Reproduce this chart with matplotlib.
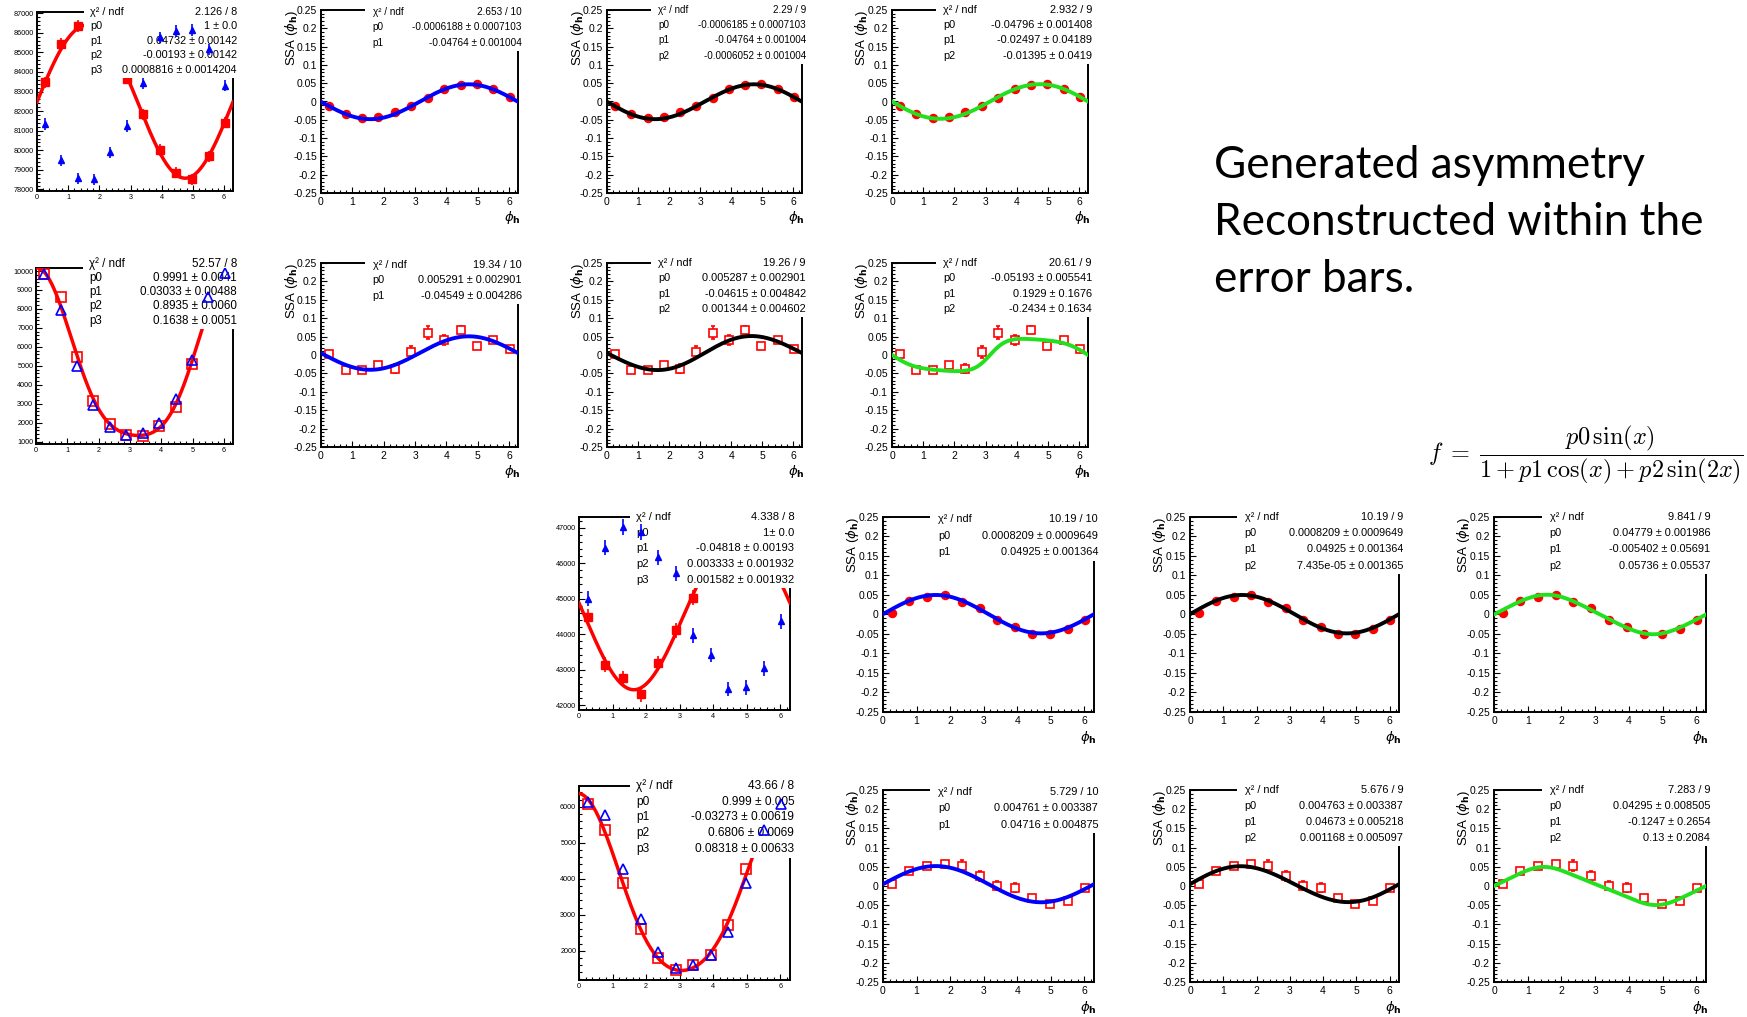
import numpy as np
import matplotlib
matplotlib.use("Agg")
import matplotlib.pyplot as plt
from matplotlib.ticker import MultipleLocator, FuncFormatter
from matplotlib.patches import Rectangle
import matplotlib.transforms as mtrans

plt.rcParams['font.family'] = ['Liberation Sans', 'DejaVu Sans']
plt.rcParams['axes.unicode_minus'] = False
plt.rcParams['mathtext.fontset'] = 'dejavusans'

W, H, DPI = 1747, 1017, 100

# ---------------- data ----------------
phi_centers = [0.262, 0.785, 1.309, 1.833, 2.356, 2.880, 3.403, 3.927, 4.451, 4.974, 5.498, 6.021]

# counts panels (red = fitted histogram, blue = second histogram)
cnt1_red = [83470, 85450, 86350, 86300, 85150, 83650, 81840, 80010, 78840, 78520, 79690, 81400]
cnt1_red_err = [290, 290, 295, 295, 290, 290, 285, 285, 280, 280, 280, 285]
cnt1_blue = [81340, 79500, 78570, 78530, 79900, 81240, 83420, 85760, 86100, 86150, 85160, 83300]
cnt1_blue_err = [285, 280, 280, 280, 285, 285, 290, 295, 295, 295, 290, 290]
cnt1_stats = [("χ² / ndf", "2.126 / 8"), ("p0", "1 ± 0.0"), ("p1", "0.04732 ± 0.00142"),
              ("p2", "-0.00193 ± 0.00142"), ("p3", "0.0008816 ± 0.0014204")]

cnt2_red = [9825, 8630, 5470, 3140, 1910, 1350, 1300, 1840, 2840, 5120, 7910, 9800]
cnt2_blue = [9860, 7930, 5000, 2930, 1790, 1350, 1470, 1960, 3250, 5300, 8630, 9910]
cnt2_stats = [("χ² / ndf", "52.57 / 8"), ("p0", "0.9991 ± 0.0041"), ("p1", "0.03033 ± 0.00488"),
              ("p2", "0.8935 ± 0.0060"), ("p3", "0.1638 ± 0.0051")]

cnt3_red = [44490, 43140, 42750, 42300, 43190, 44110, 45030, 46000, 46600, 46700, 46100, 45500]
cnt3_red_err = [210, 205, 205, 205, 205, 210, 210, 215, 215, 215, 215, 210]
cnt3_blue = [45000, 46440, 47020, 46880, 46160, 45720, 43970, 43410, 42450, 42500, 43030, 44360]
cnt3_blue_err = [210, 215, 215, 215, 215, 210, 210, 210, 205, 205, 205, 210]
cnt3_stats = [("χ² / ndf", "4.338 / 8"), ("p0", "1± 0.0"), ("p1", "-0.04818 ± 0.00193"),
              ("p2", "0.003333 ± 0.001932"), ("p3", "0.001582 ± 0.001932")]

cnt4_red = [6070, 5370, 3870, 2590, 1790, 1460, 1600, 1880, 2710, 4260, 5450, 6290]
cnt4_blue = [6140, 5770, 4270, 2870, 1970, 1510, 1600, 1880, 2530, 3870, 5350, 6090]
cnt4_stats = [("χ² / ndf", "43.66 / 8"), ("p0", "0.999 ± 0.005"), ("p1", "-0.03273 ± 0.00619"),
              ("p2", "0.6806 ± 0.0069"), ("p3", "0.08318 ± 0.00633")]

# SSA panels
ssa1_vals = [-0.011, -0.033, -0.044, -0.042, -0.030, -0.013, 0.010, 0.034, 0.045, 0.047, 0.034, 0.013]
ssa1_err = [0.0015, 0.0015, 0.0015, 0.0015, 0.0015, 0.0015, 0.0015, 0.0015, 0.0015, 0.0015, 0.0015, 0.0015]
ssa1_blue = [("χ² / ndf", "2.653 / 10"), ("p0", "-0.0006188 ± 0.0007103"), ("p1", "-0.04764 ± 0.001004")]
ssa1_black = [("χ² / ndf", "2.29 / 9"), ("p0", "-0.0006185 ± 0.0007103"), ("p1", "-0.04764 ± 0.001004"),
              ("p2", "-0.0006052 ± 0.001004")]
ssa1_green = [("χ² / ndf", "2.932 / 9"), ("p0", "-0.04796 ± 0.001408"), ("p1", "-0.02497 ± 0.04189"),
              ("p2", "-0.01395 ± 0.0419")]

ssa2_vals = [0.003, -0.040, -0.042, -0.028, -0.037, 0.008, 0.061, 0.040, 0.069, 0.025, 0.042, 0.015]
ssa2_err = [0.004, 0.005, 0.006, 0.009, 0.012, 0.016, 0.018, 0.013, 0.010, 0.004, 0.005, 0.004]
ssa2_blue = [("χ² / ndf", "19.34 / 10"), ("p0", "0.005291 ± 0.002901"), ("p1", "-0.04549 ± 0.004286")]
ssa2_black = [("χ² / ndf", "19.26 / 9"), ("p0", "0.005287 ± 0.002901"), ("p1", "-0.04615 ± 0.004842"),
              ("p2", "0.001344 ± 0.004602")]
ssa2_green = [("χ² / ndf", "20.61 / 9"), ("p0", "-0.05193 ± 0.005541"), ("p1", "0.1929 ± 0.1676"),
              ("p2", "-0.2434 ± 0.1634")]

ssa3_vals = [0.004, 0.035, 0.046, 0.050, 0.032, 0.017, -0.013, -0.032, -0.049, -0.049, -0.036, -0.015]
ssa3_err = [0.002, 0.002, 0.002, 0.002, 0.002, 0.002, 0.002, 0.002, 0.002, 0.002, 0.002, 0.002]
ssa3_blue = [("χ² / ndf", "10.19 / 10"), ("p0", "0.0008209 ± 0.0009649"), ("p1", "0.04925 ± 0.001364")]
ssa3_black = [("χ² / ndf", "10.19 / 9"), ("p0", "0.0008209 ± 0.0009649"), ("p1", "0.04925 ± 0.001364"),
              ("p2", "7.435e-05 ± 0.001365")]
ssa3_green = [("χ² / ndf", "9.841 / 9"), ("p0", "0.04779 ± 0.001986"), ("p1", "-0.005402 ± 0.05691"),
              ("p2", "0.05736 ± 0.05537")]

ssa4_vals = [0.005, 0.038, 0.053, 0.056, 0.053, 0.025, 0.001, -0.004, -0.031, -0.046, -0.038, -0.006]
ssa4_err = [0.006, 0.008, 0.007, 0.009, 0.014, 0.013, 0.012, 0.012, 0.008, 0.007, 0.007, 0.005]
ssa4_blue = [("χ² / ndf", "5.729 / 10"), ("p0", "0.004761 ± 0.003387"), ("p1", "0.04716 ± 0.004875")]
ssa4_black = [("χ² / ndf", "5.676 / 9"), ("p0", "0.004763 ± 0.003387"), ("p1", "0.04673 ± 0.005218"),
              ("p2", "0.001168 ± 0.005097")]
ssa4_green = [("χ² / ndf", "7.283 / 9"), ("p0", "0.04295 ± 0.008505"), ("p1", "-0.1247 ± 0.2654"),
              ("p2", "0.13 ± 0.2084")]

note_lines = ["Generated asymmetry", "Reconstructed within the", "error bars."]
formula = r"$f\;=\;\dfrac{p0\,\sin(x)}{1 + p1\,\cos(x) + p2\,\sin(2x)}$"

# ---------------- helpers ----------------
fig = plt.figure(figsize=(W / DPI, H / DPI), dpi=DPI)
renderer = fig.canvas.get_renderer()
xx = np.linspace(0, 2 * np.pi, 500)
RED, BLUE, GREEN = '#ff0000', '#0000ff', '#22e01e'


def pars(stats):
    return [float(v.split('±')[0]) for _, v in stats[1:]]


def add_ax(x0, y0, x1, y1):
    return fig.add_axes([x0 / W, 1 - y1 / H, (x1 - x0) / W, (y1 - y0) / H])


def tickfmt(v, p):
    if abs(v) < 1e-9:
        return "0"
    return f"{round(v, 6):g}"


def style(ax, ylim, ymaj, ymin, fs, pad):
    ax.set_xlim(0, 2 * np.pi)
    ax.set_ylim(*ylim)
    ax.xaxis.set_major_locator(MultipleLocator(1))
    ax.xaxis.set_minor_locator(MultipleLocator(0.2))
    ax.yaxis.set_major_locator(MultipleLocator(ymaj))
    ax.yaxis.set_minor_locator(MultipleLocator(ymin))
    ax.yaxis.set_major_formatter(FuncFormatter(tickfmt))
    ax.xaxis.set_major_formatter(FuncFormatter(tickfmt))
    ax.tick_params(which='both', direction='in', top=False, right=False, width=0.8,
                   labelsize=fs, pad=pad)
    ax.tick_params(which='major', length=4.5)
    ax.tick_params(which='minor', length=2.3)
    for s in ax.spines.values():
        s.set_linewidth(1.4)


def text_width(s, fs):
    t = fig.text(0, 0, s, fontsize=fs)
    w = t.get_window_extent(renderer).width
    t.remove()
    return w


def statbox(ax, rows, top, dy, box_left, lab_x, fs=None):
    if fs is None:
        bb = ax.get_window_extent(renderer)
        target = 0.55 * bb.width
        wmax = max(text_width(v, 10) for _, v in rows)
        fs = min(7.9, 10 * target / wmax)
    n = len(rows)
    bottom = top - (n - 1) * dy - 0.045
    ax.add_patch(Rectangle((box_left, bottom), 1.045 - box_left, top + 0.05 - bottom,
                           transform=ax.transAxes, facecolor='white', edgecolor='none',
                           clip_on=False, zorder=10))
    for i, (lab, val) in enumerate(rows):
        y = top - i * dy
        ax.text(lab_x, y, lab, transform=ax.transAxes, fontsize=fs, ha='left', va='center',
                zorder=11, clip_on=False)
        ax.text(1.02, y, val, transform=ax.transAxes, fontsize=fs, ha='right', va='center',
                zorder=11, clip_on=False)


def counts_shape(x, p):
    x = np.asarray(x)
    return p[0] * (1 + p[1] * np.sin(x) + p[2] * np.cos(x) + p[3] * np.cos(2 * x))


def counts_panel(rect, ylim, red, red_err, blue, blue_err, stats, filled, top, fs):
    ax = add_ax(*rect)
    style(ax, ylim, 1000, 200, 5.2, 2)
    p = pars(stats)
    g = counts_shape(phi_centers, p)
    norm = np.dot(red, g) / np.dot(g, g)
    if filled:
        ax.errorbar(phi_centers, red, yerr=red_err, fmt='s', color=RED, ms=5.2,
                    elinewidth=1.2, capsize=0, zorder=3)
    else:
        ax.plot(phi_centers, red, 's', mfc='none', mec=RED, mew=1.2, ms=6.5, zorder=3)
    ax.plot(xx, norm * counts_shape(xx, p), color=RED, lw=2.5, zorder=4)
    statbox(ax, stats, top, 0.081, 0.24, 0.27, fs=fs)
    if filled:
        ax.errorbar(phi_centers, blue, yerr=blue_err, fmt='^', color=BLUE, ms=5,
                    elinewidth=1.2, capsize=0, zorder=12)
    else:
        ax.plot(phi_centers, blue, '^', mfc='none', mec=BLUE, mew=1.2, ms=7, zorder=12)
    return ax


def ssa_panel(rect, vals, err, stats, kind, filled):
    ax = add_ax(*rect)
    style(ax, (-0.25, 0.25), 0.05, 0.01, 7.5, 3)
    if filled:
        ax.errorbar(phi_centers, vals, yerr=err, fmt='o', color=RED, ms=5.8,
                    elinewidth=1, capsize=0, zorder=3)
    else:
        ax.errorbar(phi_centers, vals, yerr=err, fmt='s', color=RED, mfc='white', mec=RED,
                    mew=1.2, ms=5.5, elinewidth=1.2, capsize=1.5, zorder=3)
    p = pars(stats)
    if kind == 'blue':
        yy = p[0] + p[1] * np.sin(xx)
        col = BLUE
    elif kind == 'black':
        yy = p[0] + p[1] * np.sin(xx) + p[2] * np.sin(2 * xx)
        col = 'black'
    else:
        yy = p[0] * np.sin(xx) / (1 + p[1] * np.cos(xx) + p[2] * np.cos(2 * xx))
        col = GREEN
    ax.plot(xx, yy, color=col, lw=2.8, zorder=4)
    if len(stats) == 3:
        statbox(ax, stats, 0.99, 0.085, 0.225, 0.262)
    else:
        statbox(ax, stats, 1.0, 0.083, 0.225, 0.262)
    off = mtrans.ScaledTranslation(-30 / DPI, 0, fig.dpi_scale_trans)
    ax.text(0, 1.0, r"SSA ($\phi_{\mathbf{h}}$)", transform=ax.transAxes + off, rotation=90,
            ha='center', va='top', fontsize=9.5)
    off2 = mtrans.ScaledTranslation(3 / DPI, -25 / DPI, fig.dpi_scale_trans)
    ax.text(1.0, 0, r"$\phi_{\mathbf{h}}$", transform=ax.transAxes + off2, ha='right',
            va='center', fontsize=9.5)
    return ax


# ---------------- panels ----------------
counts_panel((37, 12, 233, 191), (77920, 87060), cnt1_red, cnt1_red_err, cnt1_blue,
             cnt1_blue_err, cnt1_stats, True, 1.0, 7.8)
counts_panel((36, 268, 233, 444), (877, 10160), cnt2_red, None, cnt2_blue, None,
             cnt2_stats, False, 1.025, 8.4)
counts_panel((579, 517, 790, 710), (41860, 47300), cnt3_red, cnt3_red_err, cnt3_blue,
             cnt3_blue_err, cnt3_stats, True, 1.0, 8.1)
counts_panel((579, 786, 790, 980), (1185, 6580), cnt4_red, None, cnt4_blue, None,
             cnt4_stats, False, 1.0, 8.6)

top_x = [(321, 518), (607, 802), (892, 1088)]
bot_x = [(883, 1094), (1190, 1399), (1494, 1706)]
rows = [
    (top_x, (10, 193), ssa1_vals, ssa1_err, [ssa1_blue, ssa1_black, ssa1_green], True),
    (top_x, (263, 447), ssa2_vals, ssa2_err, [ssa2_blue, ssa2_black, ssa2_green], False),
    (bot_x, (517, 712), ssa3_vals, ssa3_err, [ssa3_blue, ssa3_black, ssa3_green], True),
    (bot_x, (790, 982), ssa4_vals, ssa4_err, [ssa4_blue, ssa4_black, ssa4_green], False),
]
for xs, (y0, y1), vals, err, stat_list, filled in rows:
    for (x0, x1), stats, kind in zip(xs, stat_list, ['blue', 'black', 'green']):
        ssa_panel((x0, y0, x1, y1), vals, err, stats, kind, filled)

# ---------------- annotations ----------------
t_ref = fig.text(1214 / W, 1 - 235 / H, note_lines[1], fontsize=30, family=['Lato', 'DejaVu Sans'],
                 ha='left', va='baseline', color='black')
w = t_ref.get_window_extent(renderer).width
fs_note = 30 * 488 / w
t_ref.set_fontsize(fs_note)
for line, yb in zip([note_lines[0], note_lines[2]], [178, 292]):
    fig.text(1214 / W, 1 - yb / H, line, fontsize=fs_note, family=['Lato', 'DejaVu Sans'],
             ha='left', va='baseline', color='black')

tf = fig.text(1428 / W, 1 - 455 / H, formula, fontsize=14, math_fontfamily='cm',
              ha='left', va='center')
wf = tf.get_window_extent(renderer).width
tf.set_fontsize(14 * 316 / wf)

fig.savefig("out.png", dpi=DPI)
